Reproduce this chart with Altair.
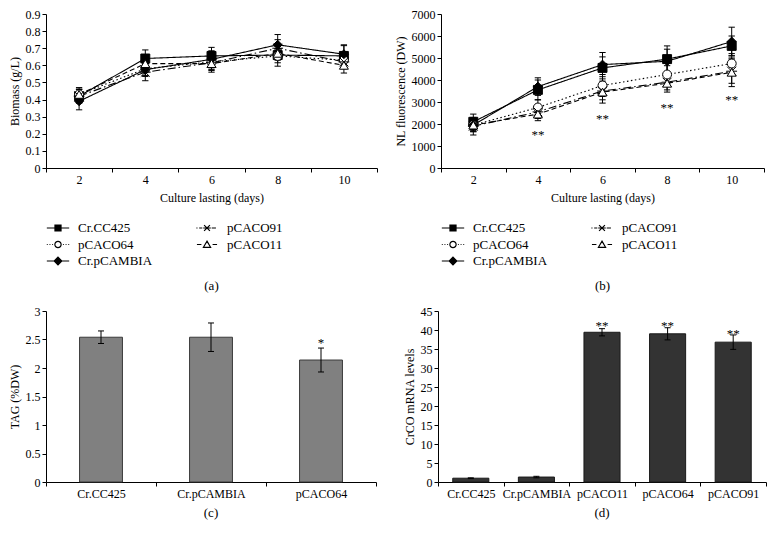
import altair as alt
import pandas as pd

FONT = "Liberation Serif"

# ---------------- data ----------------
days = [2, 4, 6, 8, 10]
strains = ["Cr.CC425", "pCACO64", "Cr.pCAMBIA", "pCACO91", "pCACO11"]

biomass_cc425 = [0.42, 0.64, 0.655, 0.66, 0.655]
biomass_p64 = [0.43, 0.58, 0.62, 0.655, 0.63]
biomass_pcambia = [0.39, 0.575, 0.635, 0.72, 0.665]
biomass_p91 = [0.42, 0.56, 0.615, 0.70, 0.62]
biomass_p11 = [0.43, 0.61, 0.61, 0.67, 0.60]

biomass_err_cc425 = [0.04, 0.05, 0.05, 0.065, 0.065]
biomass_err_p64 = [0.03, 0.04, 0.06, 0.04, 0.04]
biomass_err_pcambia = [0.05, 0.04, 0.05, 0.06, 0.05]
biomass_err_p91 = [0.04, 0.05, 0.04, 0.05, 0.04]
biomass_err_p11 = [0.04, 0.04, 0.04, 0.04, 0.045]

nl_cc425 = [2100, 3550, 4550, 4950, 5550]
nl_p64 = [1950, 2750, 3750, 4250, 4750]
nl_pcambia = [1950, 3700, 4700, 4850, 5750]
nl_p91 = [1900, 2550, 3500, 3900, 4400]
nl_p11 = [1950, 2450, 3450, 3850, 4350]

nl_err_cc425 = [350, 450, 500, 600, 450]
nl_err_p64 = [300, 350, 500, 400, 450]
nl_err_pcambia = [300, 400, 550, 550, 650]
nl_err_p91 = [400, 300, 400, 350, 550]
nl_err_p11 = [250, 300, 500, 400, 650]

nl_sig_days = [4, 6, 8, 10]
nl_sig_y = [1640, 2360, 2860, 3230]
nl_sig_text = ["**", "**", "**", "**"]

tag_strains = ["Cr.CC425", "Cr.pCAMBIA", "pCACO64"]
tag_vals = [2.54, 2.54, 2.14]
tag_err = [0.11, 0.25, 0.21]
tag_sig_strains = ["pCACO64"]
tag_sig_y = [2.5]
tag_sig_text = ["*"]

mrna_strains = ["Cr.CC425", "Cr.pCAMBIA", "pCACO11", "pCACO64", "pCACO91"]
mrna_vals = [1.0, 1.3, 39.4, 39.0, 36.8]
mrna_err = [0.1, 0.2, 0.95, 1.6, 1.9]
mrna_sig_strains = ["pCACO11", "pCACO64", "pCACO91"]
mrna_sig_y = [41.9, 41.9, 39.7]
mrna_sig_text = ["**", "**", "**"]

# ---------------- styles ----------------
dashes = [[1, 0], [1.5, 2.5], [1, 0], [8, 3, 1.5, 3], [5, 3]]
ASTER = "M-1,-1L1,1M-1,1L1,-1M-1.2,0H1.2"
shapes = ["square", "circle", "diamond", ASTER, "triangle-up"]
fills = ["black", "white", "black", "white", "white"]

legend_paths = [
    "M-1,0H1M-0.27,-0.27H0.27V0.27H-0.27Z",
    "M-1,0H-0.92M-0.76,0H-0.68M-0.52,0H-0.44M0.44,0H0.52M0.68,0H0.76M0.92,0H1"
    "M0.28,0A0.28,0.28 0 1,1 -0.28,0A0.28,0.28 0 1,1 0.28,0Z",
    "M-1,0H1M0,-0.34L0.34,0L0,0.34L-0.34,0Z",
    "M-0.95,0H-0.85M-0.7,0H-0.42M0.42,0H0.8"
    "M-0.26,-0.26L0.26,0.26M-0.26,0.26L0.26,-0.26M-0.34,0H0.34",
    "M-0.9,0H-0.5M0.5,0H0.9M0,-0.3L0.32,0.25L-0.32,0.25Z",
]


def long_df(series, errs):
    rows = []
    for s, vals, es in zip(strains, series, errs):
        for d, v, e in zip(days, vals, es):
            rows.append(dict(strain=s, day=d, val=v, lo=v - e, hi=v + e))
    return pd.DataFrame(rows)


def line_panel(df, ydomain, yvalues, yformat, ytitle, label, width, height,
               legx, legy, stars=None):
    X = alt.X("day:Q", scale=alt.Scale(domain=[1, 11], nice=False, zero=False),
              axis=alt.Axis(title="Culture lasting (days)", values=list(range(1, 12)),
                            titlePadding=7,
                            labelExpr="datum.value % 2 == 0 ? datum.label : ''",
                            tickOpacity={"condition": {"test": "datum.value % 2 == 1", "value": 1},
                                         "value": 0}))

    def Y(field):
        return alt.Y(field, type="quantitative",
                     scale=alt.Scale(domain=ydomain, nice=False, zero=True),
                     axis=alt.Axis(title=ytitle, values=yvalues, format=yformat))

    base = alt.Chart(df)
    lines = base.mark_line(color="black", strokeWidth=1.1).encode(
        x=X, y=Y("val"), detail="strain:N",
        strokeDash=alt.StrokeDash("strain:N", scale=alt.Scale(domain=strains, range=dashes),
                                  legend=None))
    rules = base.mark_rule(color="black", strokeWidth=1).encode(x=X, y=Y("lo"), y2="hi:Q")
    cap_lo = base.mark_point(shape="stroke", size=40, color="black", strokeWidth=1,
                             opacity=1, filled=False).encode(x=X, y=Y("lo"))
    cap_hi = base.mark_point(shape="stroke", size=40, color="black", strokeWidth=1,
                             opacity=1, filled=False).encode(x=X, y=Y("hi"))
    pts = base.mark_point(filled=True, stroke="black", strokeWidth=1, opacity=1, size=80).encode(
        x=X, y=Y("val"),
        shape=alt.Shape("strain:N", scale=alt.Scale(domain=strains, range=shapes), legend=None),
        fill=alt.Fill("strain:N", scale=alt.Scale(domain=strains, range=fills), legend=None))

    leg = alt.Legend(title=None, orient="none", legendX=legx, legendY=legy, columns=2,
                     symbolSize=500, symbolStrokeWidth=1.2, symbolStrokeColor="black",
                     clipHeight=14, labelFontSize=13, labelFont=FONT, labelColor="black",
                     labelOffset=8, columnPadding=42, rowPadding=2.5)
    legend_layer = alt.Chart(df).transform_filter("false").mark_point(
        filled=True, stroke="black", strokeWidth=1.2, opacity=1).encode(
        shape=alt.Shape("strain:N", scale=alt.Scale(domain=strains, range=legend_paths),
                        legend=leg),
        fill=alt.Fill("strain:N", scale=alt.Scale(domain=strains, range=fills), legend=leg),
        stroke=alt.Stroke("strain:N", scale=alt.Scale(domain=strains, range=["black"] * 5),
                          legend=leg))

    layers = [lines, rules, cap_lo, cap_hi, pts]
    if stars is not None:
        layers.append(alt.Chart(stars).mark_text(font=FONT, fontSize=13, color="black",
                                                 baseline="alphabetic", dy=7).encode(
            x=X, y=Y("y"), text="t:N"))
    layers.append(legend_layer)
    return alt.layer(*layers).resolve_scale(
        shape="independent", fill="independent", stroke="independent").properties(
        width=width, height=height,
        title=alt.TitleParams(label, orient="bottom", offset=12))


def bar_panel(cats, vals, errs, sig_cats, sig_y, sig_text, ydomain, yvalues, ytitle,
              label, width, height, band, fill, stroke):
    df = pd.DataFrame({"strain": cats, "val": vals,
                       "lo": [v - e for v, e in zip(vals, errs)],
                       "hi": [v + e for v, e in zip(vals, errs)]})
    sdf = pd.DataFrame({"strain": sig_cats, "y": sig_y, "t": sig_text})
    X = alt.X("strain:N", sort=cats, scale=alt.Scale(paddingInner=0, paddingOuter=0),
              axis=alt.Axis(title=None, labelAngle=0, tickBand="extent"))

    def Y(field):
        return alt.Y(field, type="quantitative",
                     scale=alt.Scale(domain=ydomain, nice=False),
                     axis=alt.Axis(title=ytitle, values=yvalues, format="~g"))

    base = alt.Chart(df)
    bars = base.mark_bar(width=alt.RelativeBandSize(band), fill=fill, stroke=stroke,
                         strokeWidth=1).encode(x=X, y=Y("val"))
    rules = base.mark_rule(color="black", strokeWidth=1).encode(x=X, y=Y("lo"), y2="hi:Q")
    cap_lo = base.mark_point(shape="stroke", size=36, color="black", strokeWidth=1,
                             opacity=1, filled=False).encode(x=X, y=Y("lo"))
    cap_hi = base.mark_point(shape="stroke", size=36, color="black", strokeWidth=1,
                             opacity=1, filled=False).encode(x=X, y=Y("hi"))
    stars = alt.Chart(sdf).mark_text(font=FONT, fontSize=13, color="black",
                                     baseline="alphabetic", dy=7).encode(
        x=X, y=Y("y"), text="t:N")
    return alt.layer(bars, rules, cap_lo, cap_hi, stars).properties(
        width=width, height=height,
        title=alt.TitleParams(label, orient="bottom", offset=8))


df_a = long_df([biomass_cc425, biomass_p64, biomass_pcambia, biomass_p91, biomass_p11],
               [biomass_err_cc425, biomass_err_p64, biomass_err_pcambia, biomass_err_p91,
                biomass_err_p11])
df_b = long_df([nl_cc425, nl_p64, nl_pcambia, nl_p91, nl_p11],
               [nl_err_cc425, nl_err_p64, nl_err_pcambia, nl_err_p91, nl_err_p11])
stars_b = pd.DataFrame({"day": nl_sig_days, "y": nl_sig_y, "t": nl_sig_text})

pa = line_panel(df_a, [0, 0.9], [0, 0.1, 0.2, 0.3, 0.4, 0.5, 0.6, 0.7, 0.8, 0.9], "~g",
                "Biomass (g/L)", "(a)", 331, 154, 0, 207)
pb = line_panel(df_b, [0, 7000], [0, 1000, 2000, 3000, 4000, 5000, 6000, 7000], "d",
                "NL fluorescence (DW)", "(b)", 323, 154, 0, 207, stars=stars_b)
pc = bar_panel(tag_strains, tag_vals, tag_err, tag_sig_strains, tag_sig_y, tag_sig_text,
               [0, 3], [0, 0.5, 1, 1.5, 2, 2.5, 3], "TAG (%DW)", "(c)", 330, 171, 0.39,
               "#808080", "#3a3a3a")
pd_ = bar_panel(mrna_strains, mrna_vals, mrna_err, mrna_sig_strains, mrna_sig_y, mrna_sig_text,
                [0, 45], [0, 5, 10, 15, 20, 25, 30, 35, 40, 45], "CrCO mRNA levels", "(d)",
                328, 171, 0.55, "#333333", "#1a1a1a")

chart = alt.vconcat(
    alt.hconcat(pa, pb, spacing=16),
    alt.hconcat(pc, pd_, spacing=26),
    spacing=12,
).properties(padding={"left": 0, "top": 0, "right": 0, "bottom": 0}).configure_view(
    stroke=None
).configure_axis(
    labelFont=FONT, titleFont=FONT, labelFontSize=12, titleFontSize=12,
    titleFontWeight="normal", labelColor="black", titleColor="black",
    domainColor="black", tickColor="black", grid=False, tickSize=4,
    domainWidth=1, tickWidth=1, labelPadding=2
).configure_title(
    font=FONT, fontSize=13, fontWeight="normal", color="black"
)

chart.save("out.html", embed_options={"renderer": "svg", "actions": False})
